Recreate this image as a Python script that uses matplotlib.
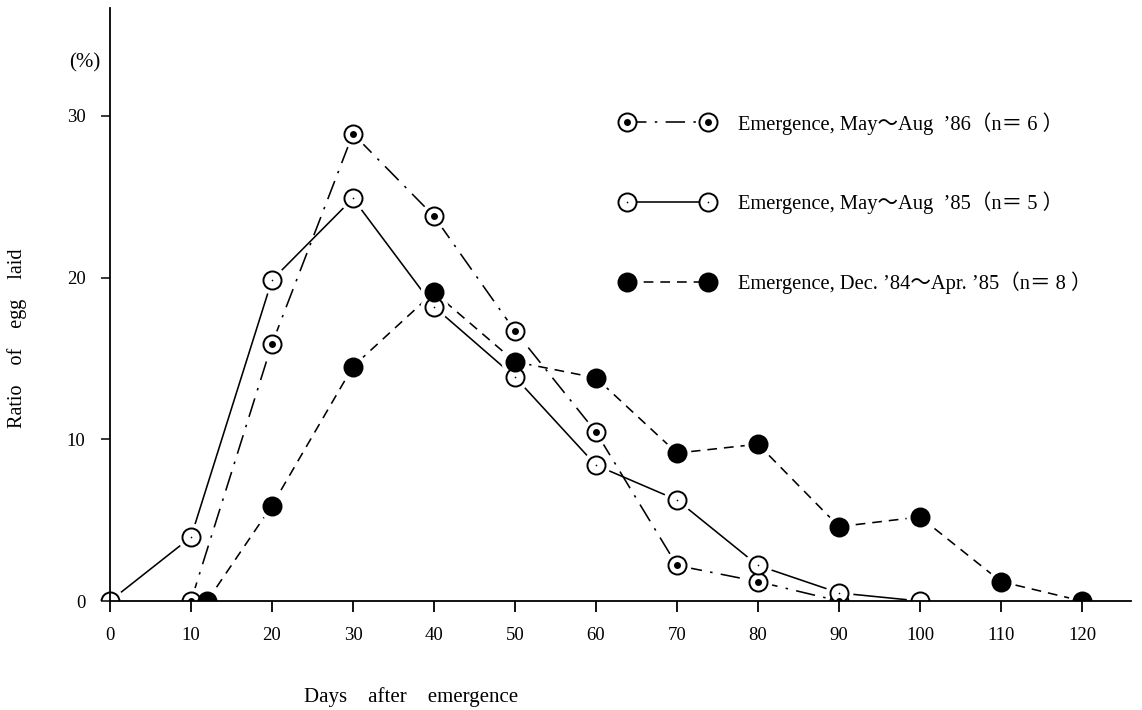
import matplotlib

matplotlib.use("Agg")
import matplotlib.pyplot as plt
from matplotlib.legend_handler import HandlerTuple
from matplotlib.patches import Rectangle

plt.rcParams["font.family"] = ["Liberation Serif", "Noto Sans CJK JP"]
plt.rcParams["lines.scale_dashes"] = False

# 读图得到的数据
days_86 = [10, 20, 30, 40, 50, 60, 70, 80, 90]
ratio_86 = [0, 15.9, 28.9, 23.8, 16.7, 10.45, 2.2, 1.2, 0]

days_85 = [0, 10, 20, 30, 40, 50, 60, 70, 80, 90, 100]
ratio_85 = [0, 3.95, 19.85, 24.9, 18.2, 13.85, 8.4, 6.25, 2.2, 0.5, 0]

days_84 = [12, 20, 30, 40, 50, 60, 70, 80, 90, 100, 110, 120]
ratio_84 = [0, 5.9, 14.5, 19.1, 14.8, 13.8, 9.15, 9.7, 4.6, 5.2, 1.2, 0]

x_ticks = [0, 10, 20, 30, 40, 50, 60, 70, 80, 90, 100, 110, 120]
y_ticks = [0, 10, 20, 30]

labels = [
    "Emergence, May～Aug  ’86（n＝ 6 ）",
    "Emergence, May～Aug  ’85（n＝ 5 ）",
    "Emergence, Dec. ’84～Apr. ’85（n＝ 8 ）",
]

fig = plt.figure(figsize=(11.42, 7.1), dpi=100)
ax = fig.add_axes([0.0821, 0.1535, 0.9079, 0.8358])
ax.set_xlim(-2, 126)
ax.set_ylim(0, 36.7)

ms = 13
halo = 19
lw = 1.15


def draw(x, y, dashes, face, dot_size):
    (line,) = ax.plot(x, y, color="black", lw=lw, zorder=2)
    if dashes:
        line.set_dashes(dashes)
    ax.plot(x, y, ls="none", marker="o", ms=halo, mfc="white", mec="white", zorder=3)
    ax.plot(x, y, ls="none", marker="o", ms=ms, mfc=face, mec="black",
            mew=1.4, zorder=4)
    (dot,) = ax.plot(x, y, ls="none", marker="o", ms=dot_size, mfc="black",
                     mec="black", mew=0, zorder=5)
    # 图例句柄：线 + 圆 + 中心点
    (h,) = ax.plot([], [], color="black", lw=lw, marker="o", ms=ms, mfc=face,
                   mec="black", mew=1.4)
    if dashes:
        h.set_dashes(dashes)
    return (h, dot)


h86 = draw(days_86, ratio_86, (14, 6, 1.8, 6), "white", 5)
h85 = draw(days_85, ratio_85, None, "white", 1.2)
h84 = draw(days_84, ratio_84, (7, 5), "black", 0)

# y=0 处只露出上半个圆：用白条遮住坐标轴下方
ax.add_patch(Rectangle((-3, -1.5), 130, 1.5, facecolor="white", edgecolor="none",
                       clip_on=False, zorder=6))

for s in ["top", "right"]:
    ax.spines[s].set_visible(False)
ax.spines["left"].set_position(("data", 0))
ax.spines["bottom"].set_bounds(0, 126)
for s in ["left", "bottom"]:
    ax.spines[s].set_linewidth(1.3)
    ax.spines[s].set_zorder(7)
ax.xaxis.set_zorder(7)
ax.yaxis.set_zorder(7)

ax.set_xticks(x_ticks)
ax.set_yticks(y_ticks)
ax.tick_params(axis="x", direction="out", length=8, width=1.3, pad=11, labelsize=13.5)
ax.tick_params(axis="y", direction="out", length=6.5, width=1.1, pad=11, labelsize=13.5)

ax.legend(
    [h86, h85, h84], labels,
    handler_map={tuple: HandlerTuple(ndivide=1, pad=0)},
    numpoints=2, handlelength=4.55, handletextpad=1.15, labelspacing=2.78,
    frameon=False, fontsize=14.8, borderpad=0, borderaxespad=0,
    loc="upper left", bbox_to_anchor=(621 / 1142, 1 - 112 / 710),
    bbox_transform=fig.transFigure,
)

fig.text(85 / 1142, 1 - 63 / 710, "(%)", fontsize=15, ha="center", va="center")
fig.text(17 / 1142, 1 - 338 / 710, "Ratio    of    egg    laid", fontsize=14.5,
         rotation=90, ha="center", va="center")
fig.text(411 / 1142, 1 - 697 / 710, "Days    after    emergence", fontsize=15,
         ha="center", va="center")

fig.savefig("out.png", dpi=100)
plt.close(fig)
